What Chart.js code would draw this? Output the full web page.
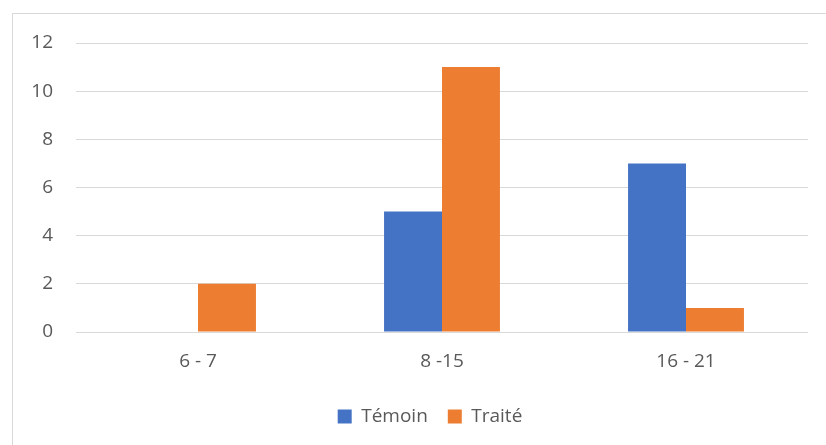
<!DOCTYPE html>
<html>
<head>
<meta charset="utf-8">
<script src="https://cdn.jsdelivr.net/npm/chart.js@4.4.1/dist/chart.umd.min.js"></script>
<style>
  html, body { margin: 0; padding: 0; background: #fff; overflow: hidden; }
  #frame {
    position: absolute; left: 12px; top: 13px;
    width: 900px; height: 500px;
    border: 1px solid #d9d9d9;
  }
  #wrap { position: absolute; left: 0; top: 0; width: 826px; height: 445px; }
</style>
</head>
<body>
<div id="frame"></div>
<div id="wrap"><canvas id="chart" width="826" height="445"></canvas></div>
<script>
const categories = ["6 - 7", "8 -15", "16 - 21"];
const temoin = [0, 5, 7];
const traite = [2, 11, 1];

const textColor = "#595959";
const gridColor = "#d9d9d9";
const font = { family: "'Open Sans', sans-serif", size: 19 };

// centre the legend under the plot area rather than the whole canvas
const legendShift = {
  id: "legendShift",
  afterLayout(chart) {
    chart.legend.left = 52;
  }
};

const ctx = document.getElementById("chart").getContext("2d");
new Chart(ctx, {
  type: "bar",
  data: {
    labels: categories,
    datasets: [
      { label: "Témoin", data: temoin, backgroundColor: "#4472c4" },
      { label: "Traité", data: traite, backgroundColor: "#ed7d31" }
    ]
  },
  plugins: [legendShift],
  options: {
    responsive: false,
    animation: false,
    categoryPercentage: 0.475,
    barPercentage: 1,
    layout: { padding: { left: 0, top: 43, right: 18, bottom: 9 } },
    plugins: {
      tooltip: { enabled: false },
      legend: {
        position: "bottom",
        labels: {
          color: textColor,
          font: font,
          boxWidth: 14,
          boxHeight: 14,
          padding: 20
        }
      }
    },
    scales: {
      x: {
        grid: { display: false, drawTicks: false },
        border: { display: false },
        ticks: { color: textColor, font: font, padding: 18 },
        afterFit: (scale) => { scale.height = 55; }
      },
      y: {
        min: 0,
        max: 12,
        ticks: { stepSize: 2, color: textColor, font: font, padding: 23 },
        grid: { color: gridColor, drawTicks: false },
        border: { display: false },
        afterFit: (scale) => { scale.width = 76; }
      }
    }
  }
});
</script>
</body>
</html>
